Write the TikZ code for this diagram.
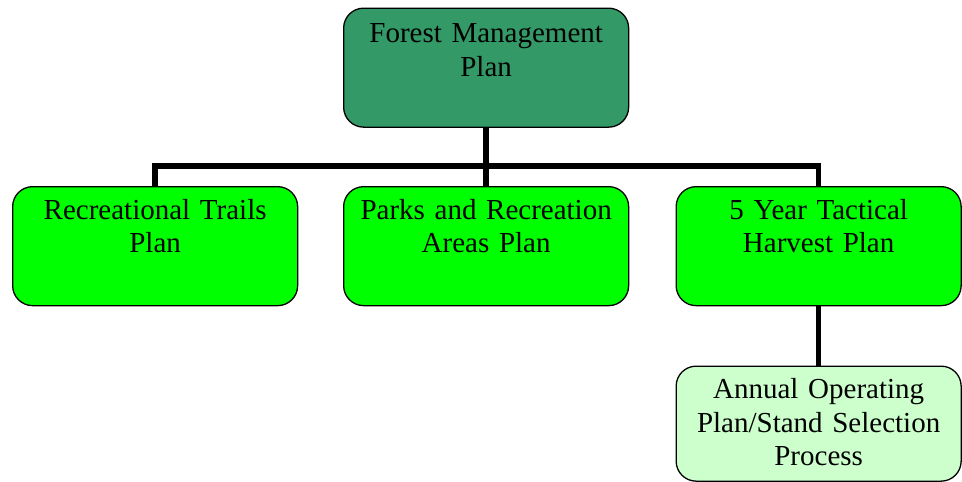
\documentclass[tikz,border=0pt]{standalone}
\usepackage{fontspec}
\setmainfont{Liberation Serif}
\definecolor{seagreen}{HTML}{339966}
\definecolor{brightgreen}{HTML}{00FF00}
\definecolor{palegreen}{HTML}{CCFFCC}
\begin{document}
\begin{tikzpicture}[x=1pt,y=-1pt,
  box/.style={draw=black, line width=1.3pt, rounded corners=20pt, minimum width=285pt, inner sep=0pt, anchor=north west},
  lbl/.style={anchor=base, text width=285pt, align=center, inner sep=0pt, font=\fontsize{29}{33.5}\selectfont},
  conn/.style={draw=black, line width=5.5pt, line join=miter}]
\useasboundingbox (0,0) rectangle (962,482);
\node[box, fill=seagreen, minimum height=119pt] (fmp) at (343,7.5) {};
\node[box, fill=brightgreen, minimum height=119pt] (trails) at (12,186) {};
\node[box, fill=brightgreen, minimum height=119pt] (parks) at (343,186) {};
\node[box, fill=brightgreen, minimum height=119pt] (harvest) at (675.5,186) {};
\node[box, fill=palegreen, minimum height=115pt] (aop) at (675.5,365.5) {};
\coordinate (bus) at (486,166);
\draw[conn] (trails.north) |- (harvest.north |- bus) -- (harvest.north);
\draw[conn] (fmp.south) -- (parks.north);
\draw[conn] (harvest.south) -- (aop.north);
\node[lbl] (fmpT) at ([yshift=-35pt]fmp.north) {Forest Management\\Plan};
\node[lbl] (trailsT) at ([yshift=-33pt]trails.north) {Recreational Trails\\Plan};
\node[lbl] (parksT) at ([yshift=-33pt]parks.north) {Parks and Recreation\\Areas Plan};
\node[lbl] (harvestT) at ([yshift=-33pt]harvest.north) {5 Year Tactical\\Harvest Plan};
\node[lbl] (aopT) at ([yshift=-33pt]aop.north) {Annual Operating\\Plan/Stand Selection\\Process};
\end{tikzpicture}
\end{document}
